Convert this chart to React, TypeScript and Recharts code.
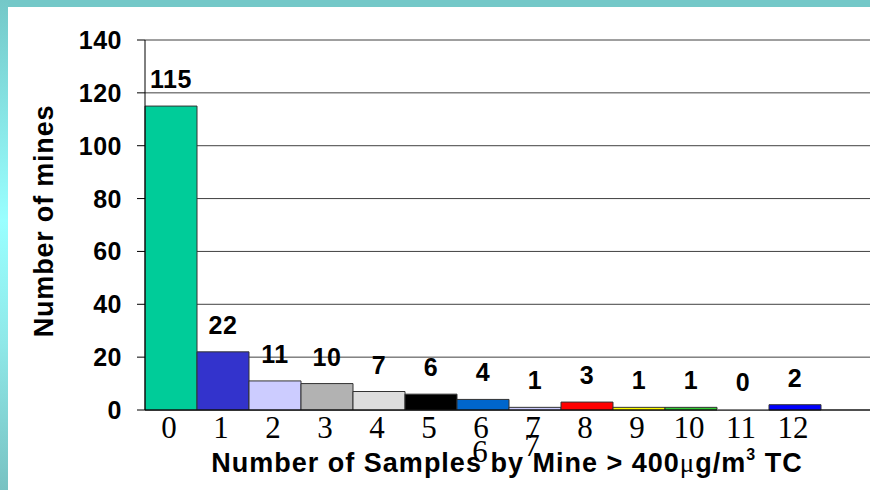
import React from "react"
import { BarChart, Bar, XAxis, YAxis, CartesianGrid, Cell, LabelList, Label } from "recharts"

// samples above 400 µg/m3 per mine (0..12), last slot is an empty category
const categories = ["0", "1", "2", "3", "4", "5", "6", "7", "8", "9", "10", "11", "12", ""]
const mineCounts = [115, 22, 11, 10, 7, 6, 4, 1, 3, 1, 1, 0, 2, null]
const barColors = [
  "#00CC99", "#3333CC", "#CCCCFF", "#B2B2B2", "#DDDDDD", "#000000", "#0066CC",
  "#CCCCFF", "#FF0000", "#FFFF00", "#33CC33", "#FFFFFF", "#0000FF", "#FFFFFF",
]
// stray duplicate tick labels in the original slide
const extraTickLabels = ["", "", "", "", "", "", "6", "7", "", "", "", "", "", ""]
const yTicks = [0, 20, 40, 60, 80, 100, 120, 140]

const data = categories.map((category, i) => ({
  category,
  mines: mineCounts[i],
  extra: extraTickLabels[i],
}))

const SANS = "'Liberation Sans', Arial, sans-serif"
const SERIF = "'Liberation Serif', 'Times New Roman', serif"
const EXTRA_DY: Record<number, number> = { 6: 24, 7: 18 }

const XTick = (props: any) => {
  const { x, y, payload, index } = props
  const extra = data[index]?.extra
  return (
    <g>
      <text x={x - 2} y={y + 28} textAnchor="middle" fontFamily={SERIF} fontSize={31} fill="#000">
        {payload.value}
      </text>
      {extra ? (
        <text x={x - 3} y={y + 28 + (EXTRA_DY[index] || 0)} textAnchor="middle" fontFamily={SERIF} fontSize={31} fill="#000">
          {extra}
        </text>
      ) : null}
    </g>
  )
}

const YTick = (props: any) => {
  const { x, y, payload } = props
  return (
    <text x={x} y={y} dy="0.36em" textAnchor="end" fontFamily={SANS} fontWeight="bold" fontSize={25} letterSpacing={0.5} fill="#000">
      {payload.value}
    </text>
  )
}

const ValueLabel = (props: any) => {
  const { x, y, width, value } = props
  if (value === null || value === undefined) return null
  return (
    <text x={x + width / 2} y={y - 18} textAnchor="middle" fontFamily={SANS} fontWeight="bold" fontSize={25} letterSpacing={0.5} fill="#000">
      {value}
    </text>
  )
}

export default function App() {
  return (
    <div style={{ position: "absolute", left: 0, top: 0, width: 870, height: 490, overflow: "hidden", background: "#fff" }}>
      {/* slide frame */}
      <div style={{ position: "absolute", left: 0, top: 0, width: 870, height: 7, background: "#74C8C8" }} />
      <div
        style={{
          position: "absolute", left: 0, top: 0, width: 8, height: 490,
          background: "linear-gradient(to bottom, #74C8C8 0%, #99FFFF 45%, #8FE8E8 70%, #78C2C2 100%)",
        }}
      />
      <div style={{ position: "absolute", left: 0, top: 0 }}>
        <BarChart
          width={873}
          height={490}
          data={data}
          margin={{ top: 40, right: 0, left: 0, bottom: 0 }}
          barCategoryGap={0}
        >
          <CartesianGrid vertical={false} stroke="#404040" strokeWidth={1} />
          <XAxis
            dataKey="category"
            height={80}
            tickLine={false}
            tickSize={0}
            tickMargin={0}
            axisLine={{ stroke: "#000", strokeWidth: 1 }}
            interval={0}
            tick={<XTick />}
          >
            <Label
              content={() => (
                <text x={507} y={472} textAnchor="middle" fontFamily={SANS} fontWeight="bold" fontSize={27} letterSpacing={1} fill="#000">
                  Number of Samples by Mine &gt; 400
                  <tspan fontFamily={SERIF} fontWeight="normal">μ</tspan>
                  g/m
                  <tspan fontSize={16} dy={-12}>3</tspan>
                  <tspan dy={12}> TC</tspan>
                </text>
              )}
            />
          </XAxis>
          <YAxis
            width={145}
            domain={[0, 140]}
            ticks={yTicks}
            interval={0}
            tickSize={8}
            tickMargin={15}
            tickLine={{ stroke: "#000" }}
            axisLine={{ stroke: "#000", strokeWidth: 1 }}
            tick={<YTick />}
          >
            <Label
              content={() => (
                <text
                  x={53}
                  y={221}
                  transform="rotate(-90, 53, 221)"
                  textAnchor="middle"
                  fontFamily={SANS}
                  fontWeight="bold"
                  fontSize={27}
                  letterSpacing={0.8}
                  fill="#000"
                >
                  Number of mines
                </text>
              )}
            />
          </YAxis>
          <Bar dataKey="mines" stroke="#333" strokeWidth={1} minPointSize={1} isAnimationActive={false}>
            {data.map((d, i) => (
              <Cell key={`cell-${i}`} fill={barColors[i]} stroke={d.mines === 0 ? "none" : "#333"} />
            ))}
            <LabelList dataKey="mines" content={<ValueLabel />} />
          </Bar>
        </BarChart>
      </div>
    </div>
  )
}
